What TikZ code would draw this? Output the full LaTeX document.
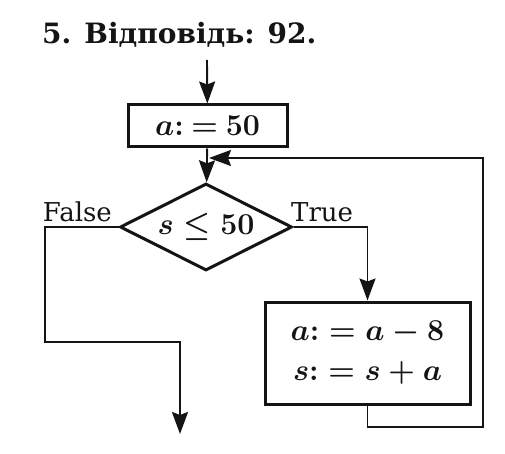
\documentclass[tikz,border=0pt]{standalone}
\usepackage{graphicx}
\usepackage{fontspec}
\setmainfont{DejaVu Serif}
\usetikzlibrary{arrows.meta,shapes.geometric,positioning}
\definecolor{ink}{HTML}{141414}
\tikzset{flow/.style={-{Stealth[length=22pt,width=16pt,inset=3pt]}, line width=1.9pt, color=ink}, blk/.style={draw=ink, line width=3pt, inner sep=0pt}, cond/.style={diamond, draw=ink, line width=3pt, aspect=2, inner sep=0pt}, lab/.style={font=\fontsize{26}{26}\selectfont, text=ink, inner sep=0pt}, expr/.style={font=\fontsize{24.88}{30}\selectfont\boldmath, text=ink}}
\newcommand{\enlargeexpr}[1]{\scalebox{1.22}{#1}}

\begin{document}
\begin{tikzpicture}[x=1pt,y=-1pt]
\useasboundingbox (0,0) rectangle (505,454);
\node[lab, font=\fontsize{28}{28}\selectfont\bfseries, anchor=base west] (title) at (42,44) {5. Відповідь: 92.};
\coordinate (start) at (207,60);
\node[blk, expr, minimum width=159pt, minimum height=42pt] (init) at (207.5,126) {\enlargeexpr{$a{:}\mskip4mu{=}\mskip4mu50$}};
\node[cond, expr, minimum width=172pt, minimum height=87pt] (test) at (206,227) {\enlargeexpr{$s \le 50$}};
\node[blk, expr, minimum width=205pt, minimum height=102pt] (upd) at (367.5,353) {\enlargeexpr{$\begin{array}{c}a{:} = a - 8\\[3pt] s{:} = s + a\end{array}$}};
\node[lab, anchor=base west] (tlab) at (291,221) {True};
\node[lab, anchor=base east] (flab) at (112,221) {False};
\coordinate (fbend) at (45,342);
\coordinate (stop) at (180,434);
\coordinate (loopr) at (483,427);
\coordinate (back) at (209,158);
% main line
\draw[flow] (start) -- (init);
\draw[flow] (init) -- (test);
\draw[flow] (test.east) -| (upd.north);
\draw[flow] (test.west) -| (fbend) -| (stop);
% loop back
\draw[flow] (upd.south) |- (loopr) |- (back);
\end{tikzpicture}
\end{document}
